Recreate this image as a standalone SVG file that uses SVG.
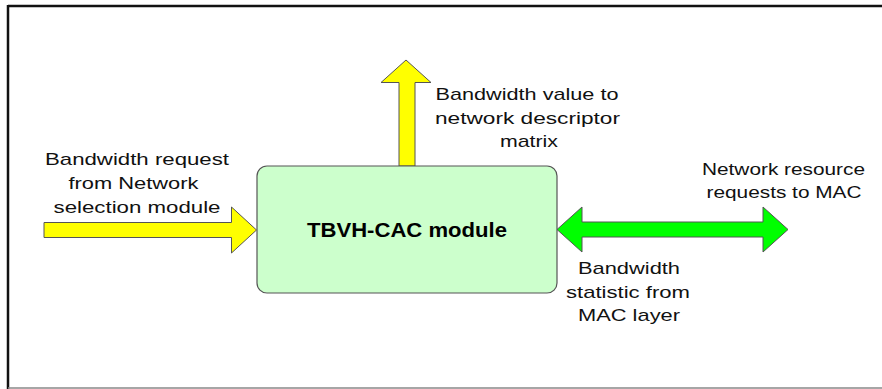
<svg xmlns="http://www.w3.org/2000/svg" width="882" height="389" viewBox="0 0 882 389">
<style>
.t{font-family:"Liberation Sans",Arial,sans-serif;font-size:17px;fill:#111;text-anchor:middle}
.b{font-family:"Liberation Sans",Arial,sans-serif;font-size:20.5px;font-weight:bold;fill:#000;text-anchor:middle}
.ya{fill:#ffff00;stroke:#555;stroke-width:1}
.ga{fill:#00ff00;stroke:#555;stroke-width:1}
</style>
<rect x="0" y="0" width="882" height="389" fill="#fff"/>
<g id="frame">
<line x1="8" y1="6" x2="882" y2="6" stroke="#111" stroke-width="2.5"/>
<line x1="8" y1="5" x2="8" y2="389" stroke="#111" stroke-width="2.5"/>
<line x1="8" y1="388" x2="882" y2="388" stroke="#888" stroke-width="1.5"/>
</g>
<g id="connectors">
<polygon class="ya" points="44,222.5 231.5,222.5 231.5,207 256.5,230 231.5,253 231.5,237.5 44,237.5"/>
<polygon class="ya" points="399,166 399,82.5 381,82.5 406,60 431,82.5 415,82.5 415,166"/>
<polygon class="ga" points="557,229.5 582,207 582,222 763,222 763,207 788,229.5 763,252 763,237 582,237 582,252"/>
</g>
<g id="tbvh">
<rect x="257" y="166" width="300" height="127" rx="10" ry="10" fill="#ccffcc" stroke="#555" stroke-width="1.2"/>
<text class="b" x="407" y="236.5" textLength="200" lengthAdjust="spacingAndGlyphs">TBVH-CAC module</text>
</g>
<g id="label-left">
<text class="t" x="137" y="164.5" textLength="184" lengthAdjust="spacingAndGlyphs">Bandwidth request</text>
<text class="t" x="133.5" y="188.5" textLength="130" lengthAdjust="spacingAndGlyphs">from Network</text>
<text class="t" x="137" y="212.5" textLength="167" lengthAdjust="spacingAndGlyphs">selection module</text>
</g>
<g id="label-top">
<text class="t" x="527" y="100" textLength="183" lengthAdjust="spacingAndGlyphs">Bandwidth value to</text>
<text class="t" x="527.5" y="123.5" textLength="185" lengthAdjust="spacingAndGlyphs">network descriptor</text>
<text class="t" x="529" y="147" textLength="58" lengthAdjust="spacingAndGlyphs">matrix</text>
</g>
<g id="label-right">
<text class="t" x="783.5" y="175" textLength="163" lengthAdjust="spacingAndGlyphs">Network resource</text>
<text class="t" x="784" y="198" textLength="155" lengthAdjust="spacingAndGlyphs">requests to MAC</text>
</g>
<g id="label-bottom">
<text class="t" x="629" y="274" textLength="102" lengthAdjust="spacingAndGlyphs">Bandwidth</text>
<text class="t" x="628" y="297.5" textLength="124" lengthAdjust="spacingAndGlyphs">statistic from</text>
<text class="t" x="629" y="320.5" textLength="102" lengthAdjust="spacingAndGlyphs">MAC layer</text>
</g>
</svg>
